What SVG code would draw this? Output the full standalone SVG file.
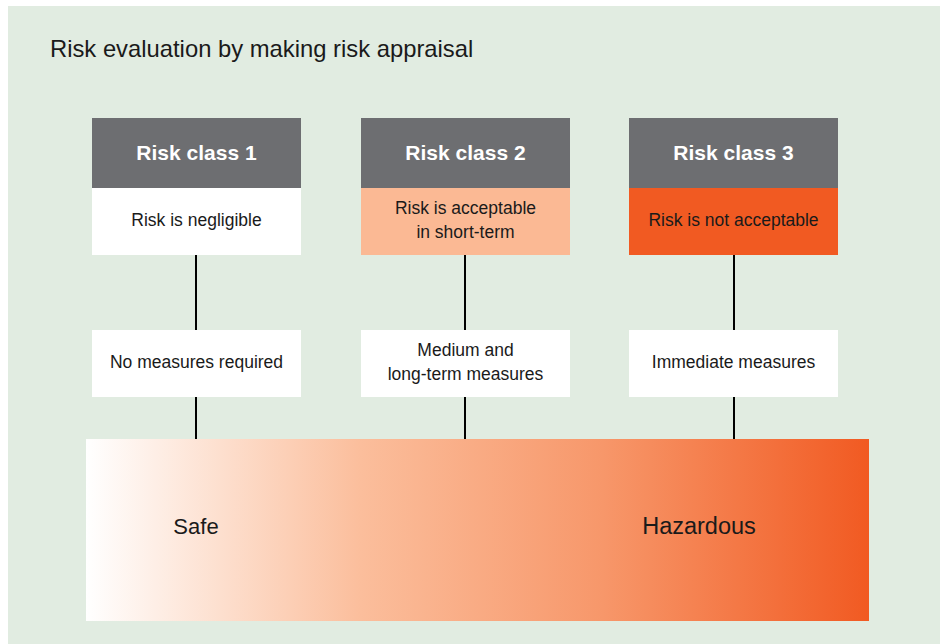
<svg xmlns="http://www.w3.org/2000/svg" width="941" height="644" viewBox="0 0 941 644">
<defs>
<linearGradient id="risk" x1="0" y1="0" x2="1" y2="0">
<stop offset="0" stop-color="#ffffff"/>
<stop offset="0.35" stop-color="#fbbe9c"/>
<stop offset="0.66" stop-color="#f7976a"/>
<stop offset="1" stop-color="#f15a22"/>
</linearGradient>
<style>
text{font-family:"Liberation Sans","Noto Sans",Arial,sans-serif;fill:#1a1a1a}
.hd{fill:#6d6e71}
.hdt{fill:#ffffff;font-weight:bold;font-size:21px;text-anchor:middle}
.bt{font-size:17.5px;text-anchor:middle}
.wb{fill:#ffffff}
.ln{stroke:#000;stroke-width:2;fill:none}
</style>
</defs>
<rect x="8" y="6" width="932" height="638" fill="#e1ece1"/>
<text x="50" y="57" font-size="23.8">Risk evaluation by making risk appraisal</text>
<g id="connectors">
<line class="ln" x1="196" y1="255" x2="196" y2="330"/>
<line class="ln" x1="196" y1="397" x2="196" y2="439"/>
<line class="ln" x1="465" y1="255" x2="465" y2="330"/>
<line class="ln" x1="465" y1="397" x2="465" y2="439"/>
<line class="ln" x1="734" y1="255" x2="734" y2="330"/>
<line class="ln" x1="734" y1="397" x2="734" y2="439"/>
</g>
<g id="class1">
<rect class="hd" x="92" y="118" width="209" height="70"/>
<text class="hdt" x="196.5" y="160">Risk class 1</text>
<rect class="wb" x="92" y="188" width="209" height="67"/>
<text class="bt" x="196.5" y="226">Risk is negligible</text>
</g>
<g id="class2">
<rect class="hd" x="361" y="118" width="209" height="70"/>
<text class="hdt" x="465.5" y="160">Risk class 2</text>
<rect x="361" y="188" width="209" height="67" fill="#fbb994"/>
<text class="bt" x="465.5" y="214">Risk is acceptable</text>
<text class="bt" x="465.5" y="238">in short-term</text>
</g>
<g id="class3">
<rect class="hd" x="629" y="118" width="209" height="70"/>
<text class="hdt" x="733.5" y="160">Risk class 3</text>
<rect x="629" y="188" width="209" height="67" fill="#f15a22"/>
<text class="bt" x="733.5" y="226">Risk is not acceptable</text>
</g>
<g id="measures1">
<rect class="wb" x="92" y="330" width="209" height="67"/>
<text class="bt" x="196.5" y="368">No measures required</text>
</g>
<g id="measures2">
<rect class="wb" x="361" y="330" width="209" height="67"/>
<text class="bt" x="465.5" y="356">Medium and</text>
<text class="bt" x="465.5" y="380">long-term measures</text>
</g>
<g id="measures3">
<rect class="wb" x="629" y="330" width="209" height="67"/>
<text class="bt" x="733.5" y="368">Immediate measures</text>
</g>
<g id="scale">
<rect x="86" y="439" width="783" height="182" fill="url(#risk)"/>
<text x="196" y="534" font-size="22" text-anchor="middle">Safe</text>
<text x="699" y="534" font-size="23.5" text-anchor="middle">Hazardous</text>
</g>
</svg>
